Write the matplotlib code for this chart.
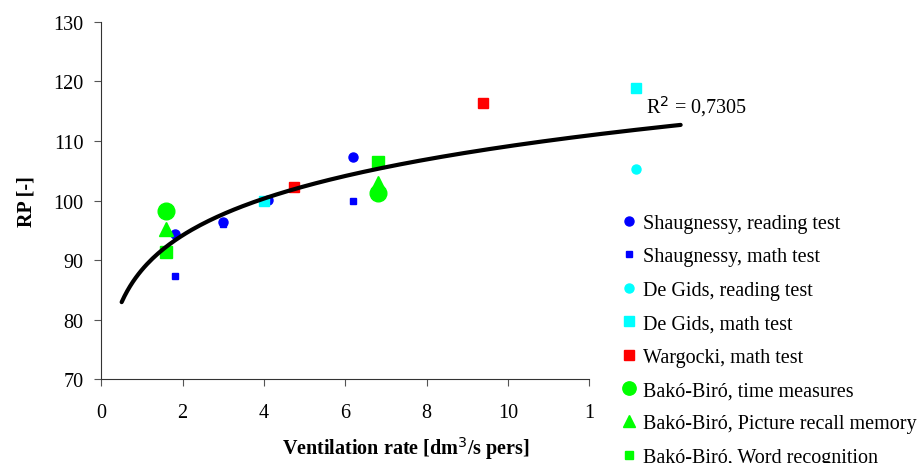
import numpy as np
import matplotlib.pyplot as plt
from matplotlib.lines import Line2D

plt.rcParams['font.family'] = ['Liberation Serif', 'DejaVu Serif']

# data (ventilation rate, RP)
shaug_read_x = [1.8, 3.0, 4.1, 6.2]
shaug_read_y = [94.4, 96.4, 100.1, 107.3]
shaug_math_x = [1.8, 3.0, 6.2]
shaug_math_y = [87.4, 96.0, 100.0]
degids_read_x = [13.15]
degids_read_y = [105.3]
degids_math_x = [4.0, 13.15]
degids_math_y = [100.0, 118.9]
warg_math_x = [4.75, 9.4]
warg_math_y = [102.2, 116.4]
bako_time_x = [1.6, 6.8]
bako_time_y = [98.3, 101.3]
bako_pic_x = [1.6, 6.8]
bako_pic_y = [95.3, 103.0]
bako_word_x = [1.6, 6.8]
bako_word_y = [91.4, 106.5]

# power trendline y = a * x^b
fit_a = 88.4
fit_b = 0.0914
fit_x0, fit_x1 = 0.5, 14.25
r2_text = "R$^2$ = 0,7305"

blue = "#0000ff"
cyan = "#00ffff"
red = "#ff0000"
green = "#00ff00"

series = [
    ("Shaugnessy, reading test", shaug_read_x, shaug_read_y, "o", blue, 6.5),
    ("Shaugnessy, math test", shaug_math_x, shaug_math_y, "s", blue, 4.5),
    ("De Gids, reading test", degids_read_x, degids_read_y, "o", cyan, 6.5),
    ("De Gids, math test", degids_math_x, degids_math_y, "s", cyan, 6.5),
    ("Wargocki, math test", warg_math_x, warg_math_y, "s", red, 6.5),
    ("Bakó-Biró, time measures", bako_time_x, bako_time_y, "o", green, 12),
    ("Bakó-Biró, Picture recall memory", bako_pic_x, bako_pic_y, "^", green, 10),
    ("Bakó-Biró, Word recognition", bako_word_x, bako_word_y, "s", green, 8),
]

fs = 14.5

fig = plt.figure(figsize=(9.17, 4.64), dpi=100)
ax = fig.add_axes([0.1105, 0.180, 0.532, 0.771])

xx = np.linspace(fit_x0, fit_x1, 200)
ax.plot(xx, fit_a * xx ** fit_b, color="black", lw=3, clip_on=False, zorder=3,
        solid_capstyle="round")

handles = []
for label, xs, ys, m, c, ms in series:
    ax.plot(xs, ys, ls="none", marker=m, color=c, ms=ms, mec=c, clip_on=False,
            zorder=2)
    handles.append(Line2D([], [], ls="none", marker=m, color=c, mec=c,
                          ms=ms * 0.8 if ms > 7 else ms, label=label))

ax.text(13.4, 116.0, r2_text, fontsize=fs, ha="left", va="center")

ax.set_xlim(0, 12)
ax.set_ylim(70, 130)
ax.set_xticks([0, 2, 4, 6, 8, 10, 12])
ax.set_xticklabels(["0", "2", "4", "6", "8", "10", "1"])
ax.set_yticks(np.arange(70, 131, 10))
for side in ("top", "right"):
    ax.spines[side].set_visible(False)
for side in ("left", "bottom"):
    ax.spines[side].set_color("#333333")
ax.tick_params(labelsize=fs, length=5, color="#555555")
ax.tick_params(axis="x", pad=12)
ax.tick_params(axis="y", pad=8)
ax.set_xlabel("Ventilation rate [dm$^3$/s pers]", fontsize=fs,
              fontweight="bold")
ax.set_ylabel("RP [-]", fontsize=fs, fontweight="bold")
ax.xaxis.set_label_coords(0.625, -0.154)
ax.yaxis.set_label_coords(-0.133, 0.5)

fig.legend(handles=handles, loc="upper left", bbox_to_anchor=(0.670, 0.554),
           frameon=False, fontsize=fs, handlelength=0.7, handletextpad=0.3,
           labelspacing=0.71, borderaxespad=0)

fig.savefig("out.png", dpi=100)
